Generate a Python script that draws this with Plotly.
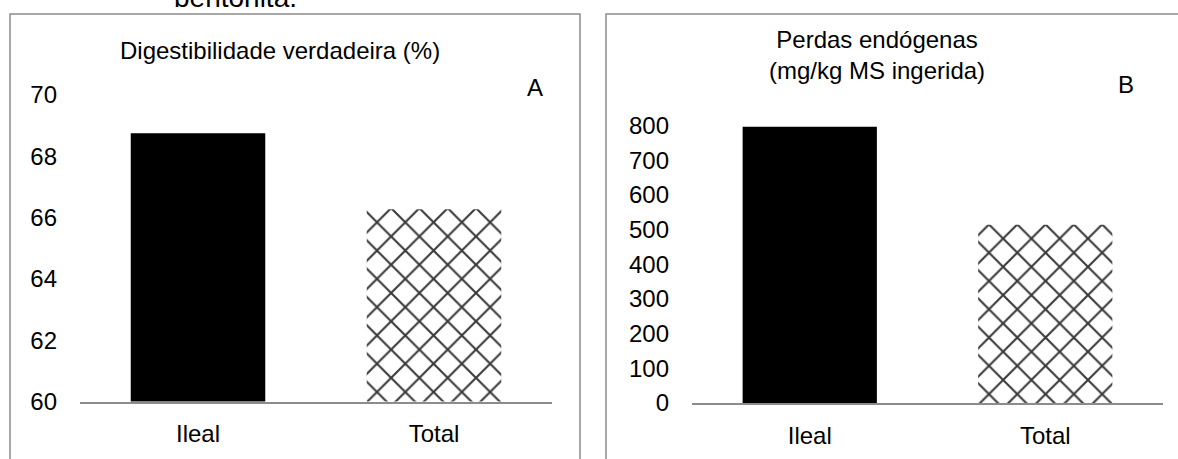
import plotly.graph_objects as go

W, H = 1178, 459

categories = ["Ileal", "Total"]
digest_values = [68.75, 66.27]
endog_values = [796, 514]
digest_ticks = [60, 62, 64, 66, 68, 70]
endog_ticks = [0, 100, 200, 300, 400, 500, 600, 700, 800]
title_a = "Digestibilidade verdadeira (%)"
title_b = "Perdas endógenas<br>(mg/kg MS ingerida)"
caption_top = "bentonita."

FONT = "Liberation Sans, Arial, sans-serif"
FS = 24
GREY = "#8c8c8c"


def px(x):
    return x / W


def py(y):
    return 1 - y / H


fill_solid = dict(color="black", line=dict(width=0))
fill_hatch = dict(color="white", line=dict(width=0),
                  pattern=dict(shape="x", size=20, solidity=0.2,
                               fgcolor="#3a3a3a", bgcolor="white", fillmode="replace"))

fig = go.Figure()
for xa, ya, vals in [("x", "y", digest_values), ("x2", "y2", endog_values)]:
    fig.add_trace(go.Bar(x=[categories[0]], y=[vals[0]], xaxis=xa, yaxis=ya,
                         marker=fill_solid, width=0.57, showlegend=False))
    fig.add_trace(go.Bar(x=[categories[1]], y=[vals[1]], xaxis=xa, yaxis=ya,
                         marker=fill_hatch, width=0.57, showlegend=False))

axis_font = dict(family=FONT, size=FS, color="black")
xcommon = dict(showline=True, linecolor=GREY, linewidth=1.5, ticks="", tickfont=axis_font,
               ticklabelstandoff=10, showgrid=False, zeroline=False, automargin=False,
               categoryorder="array", categoryarray=categories, fixedrange=True)
ycommon = dict(showgrid=False, zeroline=False, showline=False, ticks="", tickfont=axis_font,
               ticklabelstandoff=22, automargin=False, fixedrange=True)

fig.update_layout(
    template="none",
    width=W, height=H,
    autosize=False,
    margin=dict(l=0, r=0, t=0, b=0, pad=0),
    paper_bgcolor="white", plot_bgcolor="white",
    barmode="overlay",
    showlegend=False,
    font=dict(family=FONT, size=FS, color="black"),
    xaxis=dict(domain=[px(80), px(552)], anchor="y", **xcommon),
    yaxis=dict(domain=[py(401.5), py(95)], anchor="x", range=[60, 70],
               tickvals=digest_ticks, **ycommon),
    xaxis2=dict(domain=[px(692), px(1163)], anchor="y2", **xcommon),
    yaxis2=dict(domain=[py(403), py(125.4)], anchor="x2", range=[0, 800],
                tickvals=endog_ticks, **ycommon),
)

# panel borders
fig.add_shape(type="rect", xref="paper", yref="paper",
              x0=px(10), x1=px(580), y0=-0.2, y1=py(14),
              line=dict(color=GREY, width=1.5), fillcolor="rgba(0,0,0,0)", layer="below")
fig.add_shape(type="rect", xref="paper", yref="paper",
              x0=px(606), x1=px(1200), y0=-0.2, y1=py(14),
              line=dict(color=GREY, width=1.5), fillcolor="rgba(0,0,0,0)", layer="below")

anns = [
    dict(text=title_a, x=px(280), y=py(50), size=FS),
    dict(text="A", x=px(535), y=py(87), size=FS),
    dict(text=title_b, x=px(877), y=py(55), size=FS),
    dict(text="B", x=px(1126), y=py(84), size=FS),
    dict(text=caption_top, x=px(235), y=py(-3), size=28),
]
for a in anns:
    fig.add_annotation(text=a["text"], x=a["x"], y=a["y"], xref="paper", yref="paper",
                       xanchor="center", yanchor="middle", showarrow=False,
                       font=dict(family=FONT, size=a["size"], color="black"))

fig.write_html("out.html", config={"displayModeBar": False},
               post_script="document.body.style.margin='0px';document.body.style.overflow='hidden';")
